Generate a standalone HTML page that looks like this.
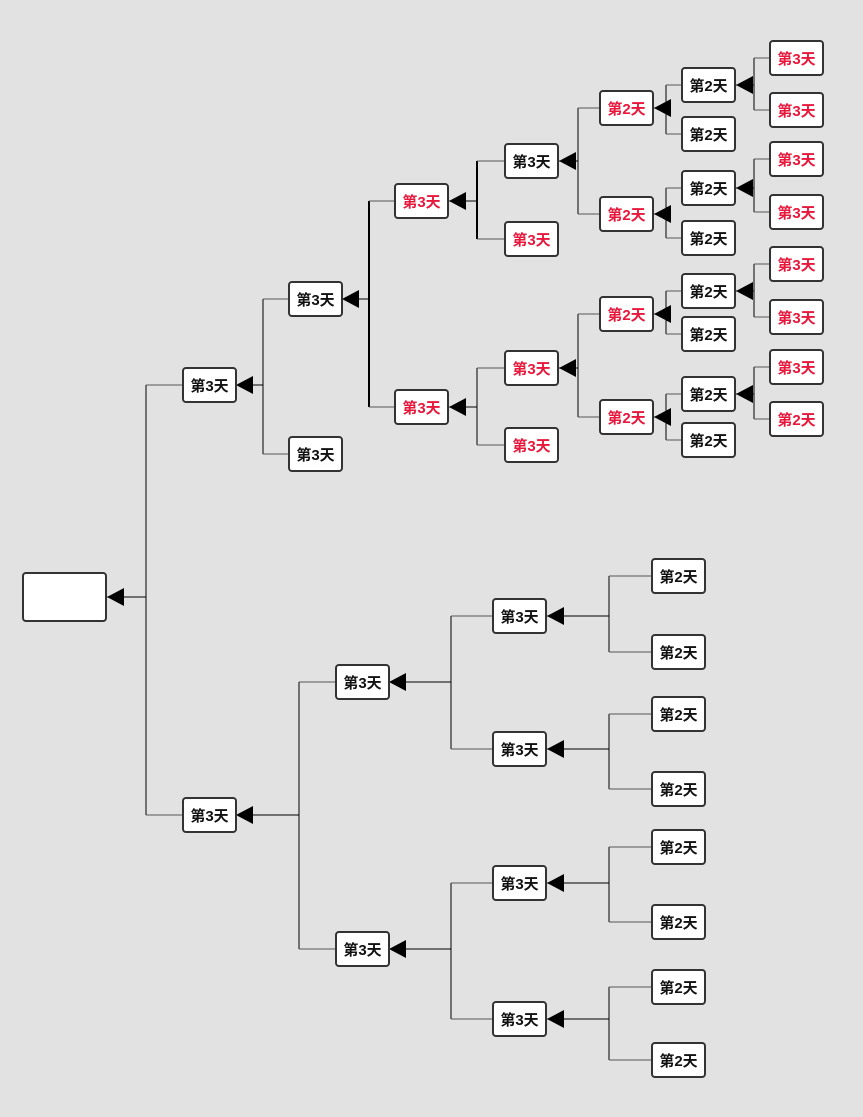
<!DOCTYPE html>
<html><head><meta charset="utf-8"><style>
html,body{margin:0;padding:0;background:#e2e2e2;}
body{width:863px;height:1117px;position:relative;overflow:hidden;}
.n{position:absolute;width:51px;height:31px;padding-top:1px;background:#fff;border:2px solid #333;border-radius:4px;font-family:"Liberation Sans","Noto Sans CJK SC",sans-serif;font-size:15px;font-weight:bold;line-height:33px;text-align:center;color:#111;}
.r{color:#e8173b;}
svg{position:absolute;left:0;top:0;}
</style></head><body>
<svg id="s" width="863" height="1117"></svg>
<div class="n" style="left:22px;top:572px;width:81px;height:45px"></div>
<div class="n" style="left:182px;top:367px">第3天</div>
<div class="n" style="left:182px;top:797px">第3天</div>
<div class="n" style="left:288px;top:281px">第3天</div>
<div class="n" style="left:288px;top:436px">第3天</div>
<div class="n r" style="left:394px;top:183px">第3天</div>
<div class="n r" style="left:394px;top:389px">第3天</div>
<div class="n" style="left:504px;top:143px">第3天</div>
<div class="n r" style="left:504px;top:221px">第3天</div>
<div class="n r" style="left:504px;top:350px">第3天</div>
<div class="n r" style="left:504px;top:427px">第3天</div>
<div class="n r" style="left:599px;top:90px">第2天</div>
<div class="n r" style="left:599px;top:196px">第2天</div>
<div class="n r" style="left:599px;top:296px">第2天</div>
<div class="n r" style="left:599px;top:399px">第2天</div>
<div class="n" style="left:681px;top:67px">第2天</div>
<div class="n" style="left:681px;top:116px">第2天</div>
<div class="n" style="left:681px;top:170px">第2天</div>
<div class="n" style="left:681px;top:220px">第2天</div>
<div class="n" style="left:681px;top:273px">第2天</div>
<div class="n" style="left:681px;top:316px">第2天</div>
<div class="n" style="left:681px;top:376px">第2天</div>
<div class="n" style="left:681px;top:422px">第2天</div>
<div class="n r" style="left:769px;top:40px">第3天</div>
<div class="n r" style="left:769px;top:92px">第3天</div>
<div class="n r" style="left:769px;top:141px">第3天</div>
<div class="n r" style="left:769px;top:194px">第3天</div>
<div class="n r" style="left:769px;top:246px">第3天</div>
<div class="n r" style="left:769px;top:299px">第3天</div>
<div class="n r" style="left:769px;top:349px">第3天</div>
<div class="n r" style="left:769px;top:401px">第2天</div>
<div class="n" style="left:335px;top:664px">第3天</div>
<div class="n" style="left:335px;top:931px">第3天</div>
<div class="n" style="left:492px;top:598px">第3天</div>
<div class="n" style="left:492px;top:731px">第3天</div>
<div class="n" style="left:492px;top:865px">第3天</div>
<div class="n" style="left:492px;top:1001px">第3天</div>
<div class="n" style="left:651px;top:558px">第2天</div>
<div class="n" style="left:651px;top:634px">第2天</div>
<div class="n" style="left:651px;top:696px">第2天</div>
<div class="n" style="left:651px;top:771px">第2天</div>
<div class="n" style="left:651px;top:829px">第2天</div>
<div class="n" style="left:651px;top:904px">第2天</div>
<div class="n" style="left:651px;top:969px">第2天</div>
<div class="n" style="left:651px;top:1042px">第2天</div>
<script>
var s=document.getElementById('s'),h='';
function c(tip,y,vx,ys,cx,w){
  w=w||1;
  h+='<line x1="'+tip+'" y1="'+y+'" x2="'+vx+'" y2="'+y+'" stroke="#000" stroke-width="1"/>';
  h+='<polygon points="'+tip+','+y+' '+(tip+17)+','+(y-9)+' '+(tip+17)+','+(y+9)+'" fill="#000"/>';
  var a=Math.min.apply(0,ys),b=Math.max.apply(0,ys);
  h+='<line x1="'+vx+'" y1="'+a+'" x2="'+vx+'" y2="'+b+'" stroke="#000" stroke-width="'+w+'"/>';
  ys.forEach(function(v){h+='<line x1="'+vx+'" y1="'+v+'" x2="'+cx+'" y2="'+v+'" stroke="#555" stroke-width="1"/>';});
}
c(107,597,146,[385,815],182);
c(236,385,263,[299,454],288);
c(342,299,369,[201,407],394,2);
c(449,201,477,[161,239],504,2);
c(449,407,477,[368,445],504);
c(559,161,578,[108,214],599);
c(559,368,578,[314,417],599);
c(654,108,666,[85,134],681);
c(654,214,666,[188,238],681);
c(654,314,666,[291,334],681);
c(654,417,666,[394,440],681);
c(736,85,754,[58,110],769);
c(736,188,754,[159,212],769);
c(736,291,754,[264,317],769);
c(736,394,754,[367,419],769);
c(236,815,299,[682,949],335);
c(389,682,451,[616,749],492);
c(389,949,451,[883,1019],492);
c(547,616,609,[576,652],651);
c(547,749,609,[714,789],651);
c(547,883,609,[847,922],651);
c(547,1019,609,[987,1060],651);
s.innerHTML=h;
</script>
</body></html>
